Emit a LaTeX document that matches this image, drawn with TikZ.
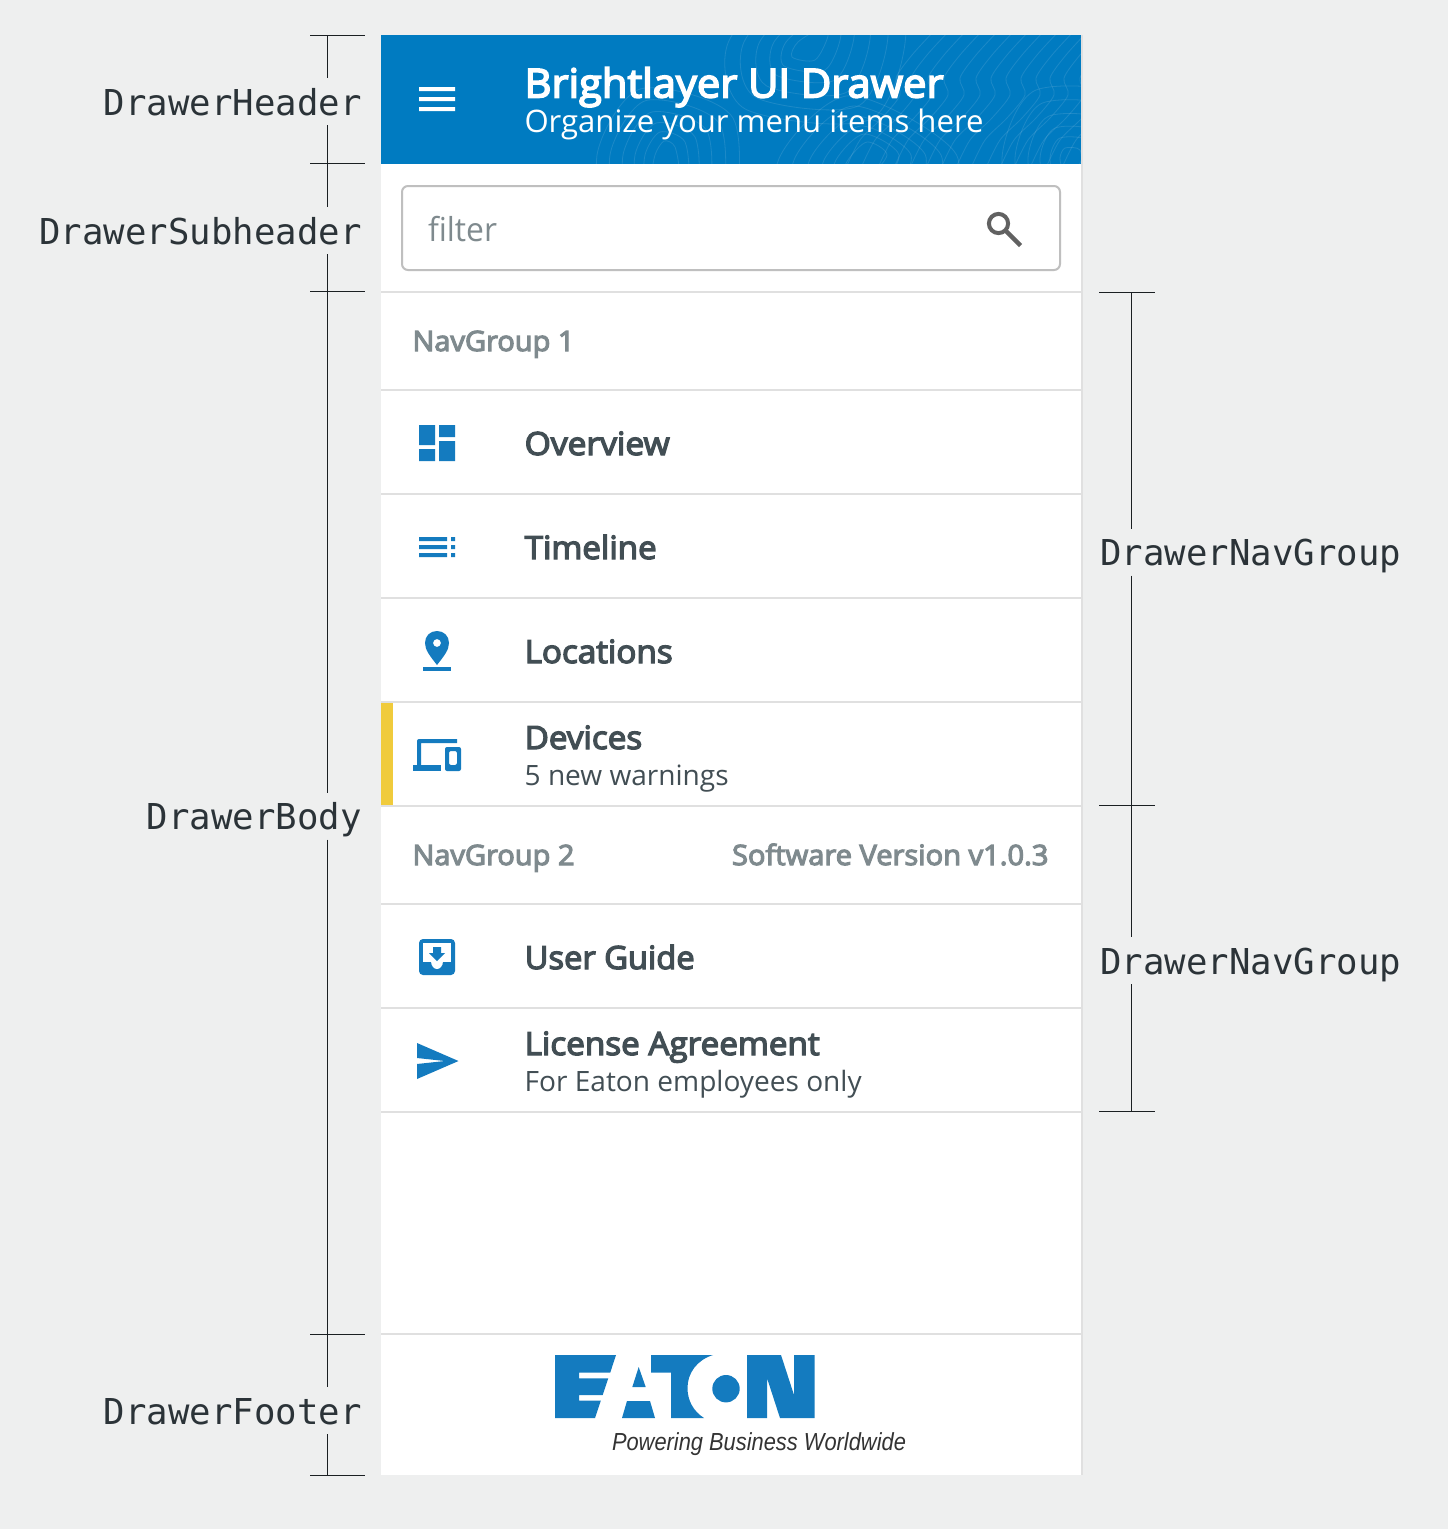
\documentclass[tikz,border=0pt]{standalone}
\usepackage{fontspec}
\usepackage{graphicx}
\setmainfont{Open Sans}
\newfontfamily\semi[FakeBold=4]{Open Sans}
\newfontfamily\monof{DejaVu Sans Mono}
\newfontfamily\tagf{Liberation Sans}
\definecolor{bgc}{HTML}{EEEFEF}
\definecolor{hdr}{HTML}{007BC1}
\definecolor{ico}{HTML}{147BBF}
\definecolor{sep}{HTML}{E0E0E0}
\definecolor{itemc}{HTML}{424E54}
\definecolor{groupc}{HTML}{7F8A8E}
\definecolor{linec}{HTML}{1A1F22}
\definecolor{monoc}{HTML}{2B3338}
\definecolor{warn}{HTML}{F0CB3C}
\newcommand\fitw[2]{\sbox0{#2}\pgfmathsetmacro\fitr{(#1*0.75pt)/\wd0}\scalebox{\fitr}[1]{\usebox0}}
\tikzset{
  lbl/.style={anchor=base west,inner sep=0pt,outer sep=0pt},
  lblr/.style={anchor=base east,inner sep=0pt,outer sep=0pt},
  tagl/.style={lblr,text=monoc,font=\monof\fontsize{26.75}{32}\selectfont,text height=27.75pt,text depth=7.5pt},
  item/.style={lbl,text=itemc,font=\semi\fontsize{24}{28}\selectfont},
  sub/.style={lbl,text=itemc,font=\fontsize{21}{25}\selectfont},
  grp/.style={lbl,text=groupc,font=\semi\fontsize{21}{25}\selectfont},
  brk/.style={draw=linec,line width=0.75pt},
  sepl/.style={draw=sep,line width=1.5pt},
  topo/.style={draw=white,draw opacity=0.11,line width=0.6pt},
}
\begin{document}
\begin{tikzpicture}[x=0.75pt,y=-0.75pt]
\useasboundingbox (0,0) rectangle (1448,1529);
\fill[bgc] (0,0) rectangle (1448,1529);
% panel
\fill[white] (381,35) rectangle (1081,1475);
\draw[sepl] (1081.7,35) -- (1081.7,1475);
\fill[hdr] (381,35) rectangle (1081,164);
% topographic texture
\begin{scope}
\clip (381,35) rectangle (1081,164);
\foreach \d in {-140,-125,-108,-92,-76,-60,-45,-30,-15,0,14,28,44,60,76,92,108}{
  \draw[topo,xshift=\d*0.75pt] plot[smooth] coordinates {(985,170) (1000,140) (1022,118) (1040,95) (1036,78) (1052,55) (1075,30)};
}
\foreach \r in {10,20,30,42,55,68}{
  \draw[topo] plot[smooth cycle] coordinates {(1070-\r,158) (1070-\r*0.5,158-\r) (1070+\r,158-\r*0.8) (1070+\r,160+\r) (1070-\r*0.6,160+\r)};
  \draw[topo] plot[smooth cycle] coordinates {(665-\r,155) (668-\r*0.4,150-\r*0.9) (665+\r,152-\r*0.5) (670+\r*0.8,165+\r) (660-\r*0.6,165+\r)};
  \draw[topo] plot[smooth cycle] coordinates {(810-\r*1.2,42) (825-\r*0.3,38-\r) (815+\r*1.3,40-\r*0.4) (805+\r,50+\r) (800-\r*0.8,48+\r*0.9)};
  \draw[topo] plot[smooth cycle] coordinates {(860-\r*1.2,160) (870-\r*0.3,150-\r*0.8) (875+\r*1.2,155) (855+\r,170+\r) (850-\r*0.8,170+\r)};
}
\end{scope}
% hamburger
\fill[white] (419,87) rectangle (455,91) (419,97) rectangle (455,101) (419,107) rectangle (455,111);
\node[lbl,text=white,font=\semi\fontsize{30}{36}\selectfont] (title) at (524.5,97.5) {\fitw{419}{Brightlayer UI Drawer}};
\node[lbl,text=white,font=\fontsize{23.25}{28}\selectfont] (subtitle) at (524.5,132) {\fitw{459}{Organize your menu items here}};
% search
\draw[draw=black!25,line width=1.5pt,rounded corners=4.5pt,fill=white] (402,186) rectangle (1060,270);
\node[lbl,text=groupc,font=\fontsize{24.75}{30}\selectfont] (filter) at (428,241) {\fitw{69}{filter}};
\draw[draw=black!62!white,line width=3pt] (998.5,223.5) circle (9.6);
\draw[draw=black!62!white,line width=3.4pt] (1006,231) -- (1020.5,245.5);
% separators
\foreach \y in {292,390,494,598,702,806,904,1008,1112,1334}{ \draw[sepl] (381,\y) -- (1081,\y); }
\fill[warn] (381,703) rectangle (393,805);
% items
\node[grp] (g1) at (412.5,351) {\fitw{162}{NavGroup 1}};
\node[item] (i1) at (524.7,455) {\fitw{145}{Overview}};
\node[item] (i2) at (524.7,559) {\fitw{132}{Timeline}};
\node[item] (i3) at (524.7,663) {\fitw{148}{Locations}};
\node[item] (i4) at (524.7,749) {\fitw{117.5}{Devices}};
\node[sub] (s4) at (524.7,785) {\fitw{204}{5 new warnings}};
\node[grp] (g2) at (412.5,865) {\fitw{162}{NavGroup 2}};
\node[grp] (ver) at (732,865) {\fitw{316.5}{Software Version v1.0.3}};
\node[item] (i5) at (524.7,969) {\fitw{170}{User Guide}};
\node[item] (i6) at (524.7,1055) {\fitw{295}{License Agreement}};
\node[sub] (s6) at (524.7,1091) {\fitw{337}{For Eaton employees only}};
% icons
\fill[ico] (419,425) rectangle (435,445) (419,449) rectangle (435,461) (439,425) rectangle (455,437) (439,441) rectangle (455,461);
\fill[ico] (419,537) rectangle (447,541) (419,545) rectangle (447,549) (419,553) rectangle (447,557)
           (451,537) rectangle (455,541) (451,545) rectangle (455,549) (451,553) rectangle (455,557);
\fill[ico,even odd rule] (437,665) .. controls (430,656) and (425,650) .. (425,643) .. controls (425,636) and (430,631) .. (437,631) .. controls (444,631) and (449,636) .. (449,643) .. controls (449,650) and (444,656) .. (437,665) -- cycle (437,643) circle (4);
\fill[ico] (423,667) rectangle (451,671);
\fill[ico] (457,739) -- (419,739) .. controls (418,739) and (417,740) .. (417,741) -- (417,767) -- (421,767) -- (421,743) -- (457,743) -- cycle;
\fill[ico] (413,765) rectangle (441,771);
\fill[ico,even odd rule,rounded corners=1.5pt] (445,747) rectangle (461,771) (449,751) rectangle (457,765);
\fill[ico,rounded corners=3pt] (419,939) rectangle (455,975);
\fill[white] (423,943) rectangle (451,961.7);
\fill[white] (431,961) .. controls (431,966) and (434,969) .. (437,969) .. controls (440,969) and (443,966) .. (443,961) -- cycle;
\fill[ico] (433,947) -- (441,947) -- (441,953) -- (445,953) -- (437,961) -- (429,953) -- (433,953) -- cycle;
\fill[ico] (417,1043) -- (458.5,1061) -- (417,1079) -- (417,1064) -- (445,1061) -- (417,1058) -- cycle;
% logo
\fill[ico] (555,1355) -- (616,1355) -- (610.2,1372.7) -- (579,1372.7) -- (579,1378.3) -- (608.3,1378.3) -- (602.7,1395) -- (579,1395) -- (579,1400.7) -- (600.8,1400.7) -- (595,1418) -- (555,1418) -- cycle;
\fill[ico] (622,1418) -- (627,1401) -- (650,1401) -- (655,1418) -- cycle;
\fill[ico] (638.7,1367) -- (632.3,1387) -- (645.7,1387) -- cycle;
\fill[ico] (651,1355) -- (713,1355) .. controls (697,1360) and (687.5,1373) .. (687.5,1388) .. controls (687.5,1400) and (693,1411) .. (704,1418) -- (671,1418) -- (671,1372.7) -- (651,1372.7) -- cycle;
\fill[ico] (726,1388.7) circle (13.7);
\fill[ico] (747,1355) -- (781,1355) -- (794,1395) -- (794,1355) -- (814.5,1355) -- (814.5,1418) -- (780,1418) -- (767,1378) -- (767,1418) -- (747,1418) -- cycle;
\node[lbl,text=black!80,font=\tagf\itshape\fontsize{18.5}{22}\selectfont] (tag) at (612,1450) {\fitw{294}{Powering Business Worldwide}};
% annotation labels
\node[tagl] (lh) at (361.5,115) {DrawerHeader};
\node[tagl] (ls) at (361.5,244) {DrawerSubheader};
\node[tagl] (lb) at (361.5,829.5) {DrawerBody};
\node[tagl] (lf) at (361.5,1424) {DrawerFooter};
\node[tagl,anchor=base west] (ln1) at (1100.5,565.5) {DrawerNavGroup};
\node[tagl,anchor=base west] (ln2) at (1100.5,974) {DrawerNavGroup};
% left bracket
\coordinate (t0) at (327,35);
\coordinate (t1) at (327,163);
\coordinate (t2) at (327,291);
\coordinate (t3) at (327,1334);
\coordinate (t4) at (327,1475);
\foreach \c in {t0,t1,t2,t3,t4}{ \draw[brk] ([xshift=-12.75pt]\c) -- ([xshift=28.5pt]\c); }
\draw[brk] (t0) -- (t0 |- lh.north);
\draw[brk] (t0 |- lh.south) -- (t1);
\draw[brk] (t1) -- (t1 |- ls.north);
\draw[brk] (t1 |- ls.south) -- (t2);
\draw[brk] (t2) -- (t2 |- lb.north);
\draw[brk] (t2 |- lb.south) -- (t3);
\draw[brk] (t3) -- (t3 |- lf.north);
\draw[brk] (t3 |- lf.south) -- (t4);
% right bracket
\coordinate (r0) at (1131,292);
\coordinate (r1) at (1131,805);
\coordinate (r2) at (1131,1111);
\foreach \c in {r0,r1,r2}{ \draw[brk] ([xshift=-24pt]\c) -- ([xshift=18pt]\c); }
\draw[brk] (r0) -- (r0 |- ln1.north);
\draw[brk] (r0 |- ln1.south) -- (r1);
\draw[brk] (r1) -- (r1 |- ln2.north);
\draw[brk] (r1 |- ln2.south) -- (r2);
\end{tikzpicture}
\end{document}
